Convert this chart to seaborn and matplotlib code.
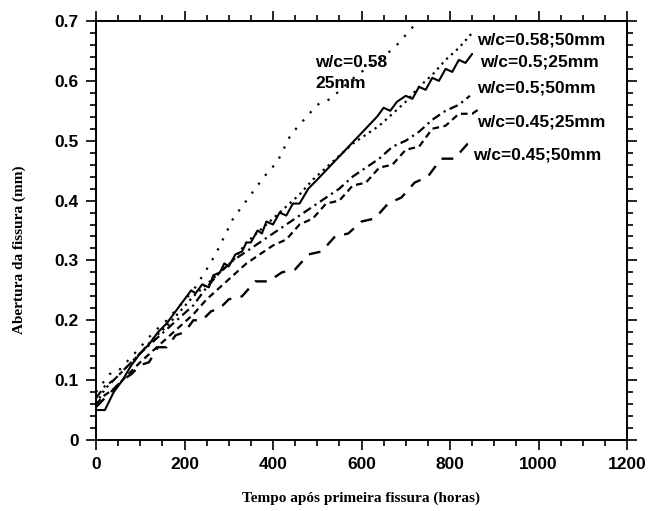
import numpy as np
import pandas as pd
import matplotlib
matplotlib.use("Agg")
import matplotlib.pyplot as plt
from matplotlib.ticker import MultipleLocator
import seaborn as sns

# crack opening vs time after first crack
x_058_25 = [0, 15, 30, 50, 75, 100, 130, 160, 190, 220, 250, 270, 290, 310, 330, 350,
            380, 410, 440, 470, 500, 530, 560, 590, 620, 650, 680, 710, 740]
y_058_25 = [0.08, 0.095, 0.11, 0.115, 0.135, 0.155, 0.18, 0.2, 0.225, 0.25, 0.285, 0.31,
            0.34, 0.37, 0.39, 0.41, 0.44, 0.465, 0.51, 0.535, 0.56, 0.57, 0.59, 0.61,
            0.625, 0.64, 0.66, 0.685, 0.71]

x_058_50 = [0, 20, 40, 60, 80, 100, 130, 160, 190, 220, 250, 280, 310, 340, 370, 400,
            430, 460, 490, 520, 550, 580, 610, 640, 670, 700, 730, 760, 790, 820, 850]
y_058_50 = [0.06, 0.085, 0.1, 0.115, 0.13, 0.145, 0.17, 0.19, 0.215, 0.24, 0.26, 0.28,
            0.3, 0.33, 0.35, 0.37, 0.39, 0.41, 0.435, 0.455, 0.475, 0.495, 0.51, 0.525,
            0.545, 0.565, 0.59, 0.61, 0.635, 0.655, 0.68]

x_05_25 = [0, 20, 40, 60, 80, 100, 120, 140, 160, 180, 200, 215, 225, 240, 255,
           265, 280, 290, 300, 315, 330, 340, 350, 365, 375, 385, 400, 415, 430, 445,
           460, 480, 500, 635, 650, 665, 680, 700, 715, 730, 745, 760, 775, 790, 805,
           820, 835, 850]
y_05_25 = [0.05, 0.05, 0.08, 0.1, 0.125, 0.145, 0.16, 0.18, 0.195, 0.215, 0.235, 0.25,
           0.245, 0.26, 0.255, 0.275, 0.28, 0.295, 0.29, 0.31, 0.315, 0.33, 0.33, 0.35,
           0.345, 0.365, 0.36, 0.38, 0.375, 0.395, 0.395, 0.42, 0.435, 0.54, 0.555,
           0.55, 0.565, 0.575, 0.57, 0.59, 0.585, 0.605, 0.6, 0.62, 0.615, 0.635, 0.63,
           0.645]

x_05_50 = [0, 20, 40, 60, 80, 100, 130, 160, 190, 220, 250, 280, 310, 340, 370, 400,
           430, 460, 490, 520, 550, 580, 610, 640, 670, 700, 730, 760, 790, 820, 845]
y_05_50 = [0.07, 0.09, 0.1, 0.115, 0.13, 0.145, 0.165, 0.185, 0.205, 0.225, 0.255, 0.28,
           0.3, 0.315, 0.33, 0.345, 0.36, 0.375, 0.39, 0.405, 0.42, 0.44, 0.455, 0.47,
           0.49, 0.5, 0.515, 0.535, 0.55, 0.56, 0.575]

x_045_25 = [0, 20, 40, 60, 80, 100, 130, 160, 190, 220, 250, 280, 310, 340, 370, 400,
            430, 460, 490, 520, 550, 580, 610, 640, 670, 700, 730, 760, 790, 820, 850, 870]
y_045_25 = [0.06, 0.075, 0.085, 0.1, 0.115, 0.13, 0.15, 0.17, 0.19, 0.21, 0.235, 0.255,
            0.275, 0.295, 0.31, 0.325, 0.335, 0.36, 0.37, 0.395, 0.4, 0.425, 0.43, 0.455,
            0.46, 0.485, 0.49, 0.52, 0.525, 0.545, 0.545, 0.555]

x_045_50 = [0, 20, 40, 60, 80, 100, 120, 140, 160, 180, 200, 220, 240, 260, 280, 300,
            330, 360, 390, 420, 450, 480, 510, 540, 570, 600, 630, 660, 690, 720, 750,
            780, 810, 840, 860]
y_045_50 = [0.055, 0.07, 0.085, 0.1, 0.11, 0.125, 0.13, 0.155, 0.155, 0.175, 0.18, 0.2,
            0.2, 0.215, 0.22, 0.235, 0.24, 0.265, 0.265, 0.28, 0.285, 0.31, 0.315,
            0.34, 0.345, 0.365, 0.37, 0.395, 0.405, 0.43, 0.44, 0.47, 0.47, 0.495, 0.5]

labels = ["w/c=0.58;50mm", "w/c=0.5;25mm", "w/c=0.5;50mm", "w/c=0.45;25mm", "w/c=0.45;50mm"]
label_x = [861, 868, 861, 861, 852]
label_y = [0.668, 0.631, 0.588, 0.531, 0.476]

series = [
    (x_058_25, y_058_25, (0, (1, 4)), 1.6),
    (x_058_50, y_058_50, (0, (1, 2)), 1.6),
    (x_05_25, y_05_25, "-", 1.5),
    (x_05_50, y_05_50, (0, (4, 2, 1, 2)), 1.6),
    (x_045_25, y_045_25, (0, (3, 2)), 1.6),
    (x_045_50, y_045_50, (0, (5, 4)), 1.7),
]

sns.set_style("ticks")
plt.rcParams.update({"text.color": "black", "axes.labelcolor": "black",
                     "xtick.color": "black", "ytick.color": "black"})
sans = ["Liberation Sans", "DejaVu Sans"]
serif = ["Liberation Serif", "DejaVu Serif"]

fig = plt.figure(figsize=(6.48, 5.11), dpi=100)
ax = fig.add_axes([96 / 648, 71 / 511, 531 / 648, 419 / 511])

for xs, ys, ls, lw in series:
    sns.lineplot(x=xs, y=ys, ax=ax, color="black", linestyle=ls, linewidth=lw)

ax.set_xlim(0, 1200)
ax.set_ylim(0, 0.7)
ax.xaxis.set_major_locator(MultipleLocator(200))
ax.xaxis.set_minor_locator(MultipleLocator(50))
ax.yaxis.set_minor_locator(MultipleLocator(0.02))
ax.set_yticks(np.arange(0, 0.71, 0.1))
ax.set_yticklabels(["0", "0.1", "0.2", "0.3", "0.4", "0.5", "0.6", "0.7"])

for s in ax.spines.values():
    s.set_linewidth(1.4)
    s.set_color("black")
ax.tick_params(which="both", direction="out", top=True, right=True, color="black",
               labelcolor="black", width=1.2)
ax.tick_params(which="major", length=7.5, pad=5)
ax.tick_params(which="minor", length=4.5)
for t in ax.get_xticklabels() + ax.get_yticklabels():
    t.set_fontfamily(sans)
    t.set_fontweight("bold")
    t.set_fontsize(12.5)

ax.set_xlabel("Tempo após primeira fissura (horas)", fontfamily=serif, fontweight="bold",
              fontsize=11, color="black")
ax.set_ylabel("Abertura da fissura (mm)", fontfamily=serif, fontweight="bold",
              fontsize=11, color="black")
ax.xaxis.set_label_coords(0.5, -0.124)
ax.yaxis.set_label_coords(-0.132, 0.453)

ax.text(495, 0.631, "w/c=0.58", fontfamily=sans, fontweight="bold", fontsize=12.5,
        ha="left", va="center", color="black")
ax.text(495, 0.595, "25mm", fontfamily=sans, fontweight="bold", fontsize=12.5,
        ha="left", va="center", color="black")
for lab, lx, ly in zip(labels, label_x, label_y):
    ax.text(lx, ly, lab, fontfamily=sans, fontweight="bold", fontsize=12.5,
            ha="left", va="center", color="black")

fig.savefig("out.png", dpi=100)
